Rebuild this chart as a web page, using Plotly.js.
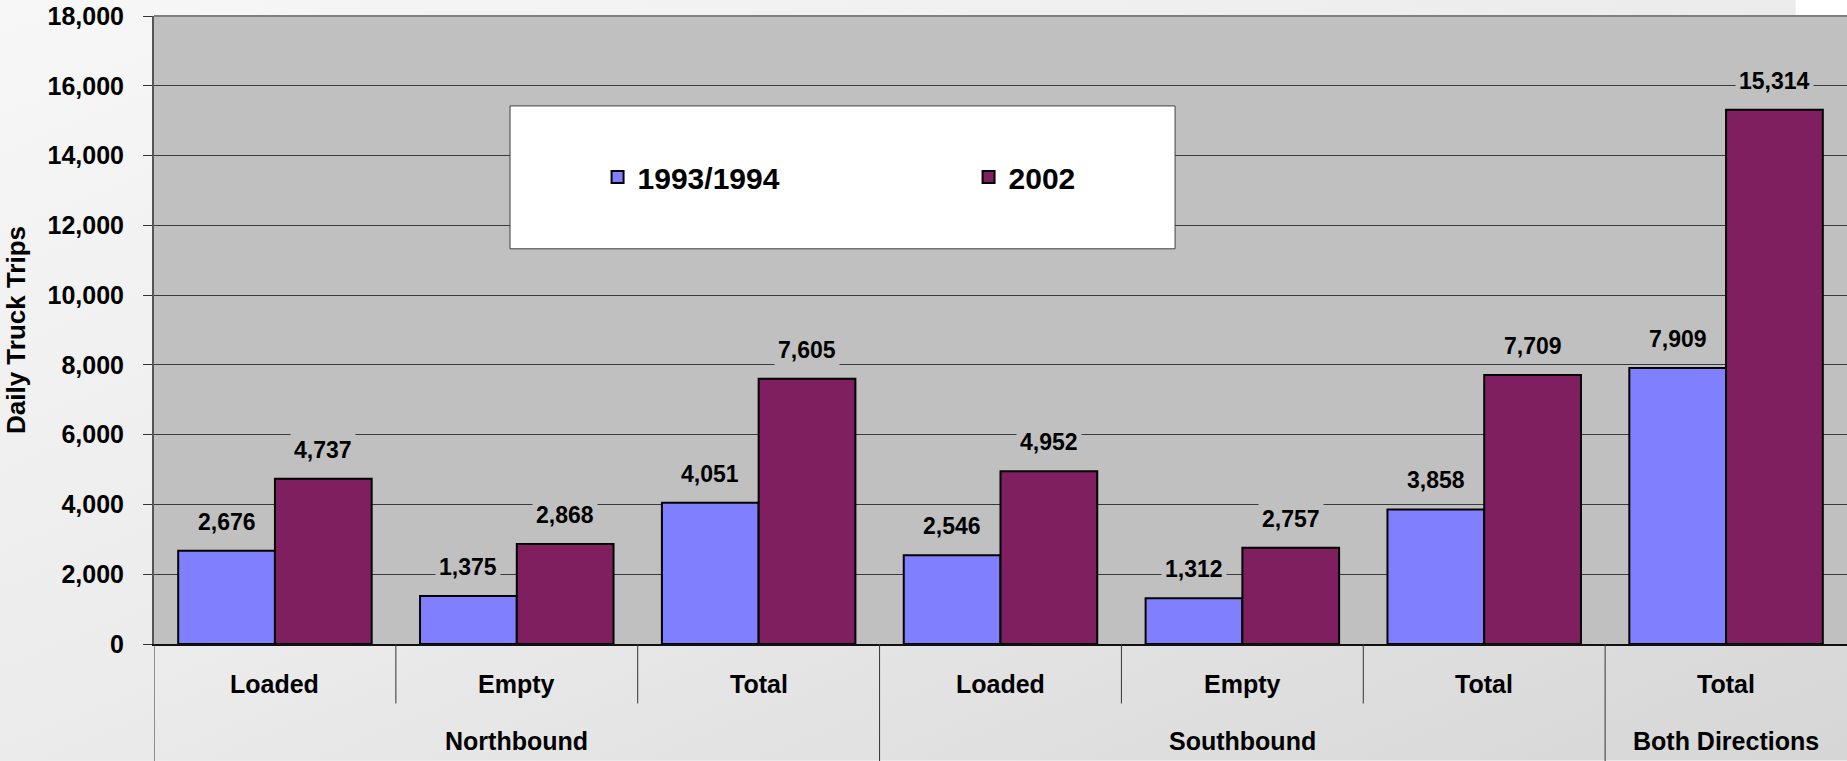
<!DOCTYPE html>
<html>
<head>
<meta charset="utf-8">
<script src="https://cdn.plot.ly/plotly-3.0.1.min.js"></script>
<style>
  html, body { margin: 0; padding: 0; background: #ececec; }
  #chart { width: 1847px; height: 761px; }
</style>
</head>
<body>
<div id="chart"></div>
<script>
// ---- data ----
const subCategories = ["Loaded", "Empty", "Total", "Loaded", "Empty", "Total", "Total"];
const groups = ["Northbound", "Northbound", "Northbound", "Southbound", "Southbound", "Southbound", "Both Directions"];
const seriesNames = ["1993/1994", "2002"];
const values1993 = [2676, 1375, 4051, 2546, 1312, 3858, 7909];
const values2002 = [4737, 2868, 7605, 4952, 2757, 7709, 15314];
const yTickValues = [0, 2000, 4000, 6000, 8000, 10000, 12000, 14000, 16000, 18000];

// ---- styling ----
const FONT = "Liberation Sans, Arial, Helvetica, sans-serif";
const colors = ["#8080ff", "#7f1f5f"];
const xIdx = subCategories.map((_, i) => i);
const allSeries = [values1993, values2002];
const barOffsets = [-0.2, 0.2];

const traces = allSeries.map((vals, s) => ({
  type: "bar",
  name: seriesNames[s],
  x: xIdx,
  y: vals,
  marker: { color: colors[s], line: { color: "#000000", width: 2 } },
  hoverinfo: "y"
}));

const fmt = v => v.toLocaleString("en-US");
const annotations = [];
// value labels
allSeries.forEach((vals, s) => {
  vals.forEach((v, i) => {
    annotations.push({
      x: i + barOffsets[s], y: v, xref: "x", yref: "y",
      text: fmt(v), showarrow: false, yanchor: "middle", yshift: 29,
      bgcolor: "#c0c0c0", borderpad: 3,
      font: { family: FONT, size: 23, color: "#000", weight: "bold" }
    });
  });
});
// sub-category labels
subCategories.forEach((c, i) => {
  annotations.push({
    x: i, y: -0.0644, xref: "x", yref: "paper", text: c, showarrow: false,
    yanchor: "middle", font: { family: FONT, size: 25, color: "#000", weight: "bold" }
  });
});
// group labels
const groupNames = [...new Set(groups)];
groupNames.forEach(g => {
  const idx = xIdx.filter(i => groups[i] === g);
  const center = idx.reduce((a, b) => a + b, 0) / idx.length;
  annotations.push({
    x: center, y: -0.155, xref: "x", yref: "paper", text: g, showarrow: false,
    yanchor: "middle", font: { family: FONT, size: 25, color: "#000", weight: "bold" }
  });
});

// ---- shapes ----
const shapes = [];
// plot area background
shapes.push({ type: "rect", xref: "paper", yref: "paper", x0: 0, x1: 1.01, y0: 0, y1: 1,
  fillcolor: "#c0c0c0", line: { width: 0 }, layer: "below" });
// white notch top right
shapes.push({ type: "rect", xref: "paper", yref: "paper", x0: 0.9697, x1: 1.01, y0: 1.002, y1: 1.03,
  fillcolor: "#ffffff", line: { width: 0 }, layer: "below" });
// top border
shapes.push({ type: "line", xref: "paper", yref: "paper", x0: 0, x1: 1.01, y0: 1, y1: 1,
  line: { color: "#808080", width: 2 }, layer: "above" });
// category dividers
shapes.push({ type: "line", xref: "x", yref: "paper", x0: -0.5, x1: -0.5, y0: 0, y1: -0.2,
  line: { color: "#333", width: 1 } });
for (let i = 0; i < subCategories.length - 1; i++) {
  const long = groups[i] !== groups[i + 1];
  shapes.push({ type: "line", xref: "x", yref: "paper", x0: i + 0.5, x1: i + 0.5, y0: 0,
    y1: long ? -0.2 : -0.0947, line: { color: "#333", width: 1 } });
}
// legend box
shapes.push({ type: "rect", xref: "paper", yref: "paper", x0: 0.2103, x1: 0.6031, y0: 0.6293, y1: 0.8568,
  fillcolor: "#ffffff", line: { color: "#404040", width: 1 }, layer: "above" });

// background gradient
const svg = "<svg xmlns='http://www.w3.org/2000/svg' width='200' height='100' preserveAspectRatio='none' viewBox='0 0 200 100'>" +
  "<defs><linearGradient id='g' x1='0' y1='0' x2='1' y2='1'>" +
  "<stop offset='0' stop-color='#f7f7f7'/><stop offset='0.5' stop-color='#ebebeb'/><stop offset='1' stop-color='#d6d6d6'/>" +
  "</linearGradient></defs><rect width='200' height='100' fill='url(#g)'/></svg>";
const bgImage = "data:image/svg+xml;charset=utf-8," + encodeURIComponent(svg);

const layout = {
  width: 1847, height: 761,
  margin: { l: 154, r: 0, t: 16, b: 117 },
  paper_bgcolor: "#ececec",
  plot_bgcolor: "rgba(0,0,0,0)",
  font: { family: FONT, color: "#000", weight: "bold" },
  barmode: "group", bargap: 0.2, bargroupgap: 0,
  showlegend: true,
  legend: {
    orientation: "h", x: 0.262, y: 0.7438, xanchor: "left", yanchor: "middle",
    bgcolor: "rgba(0,0,0,0)", borderwidth: 0,
    font: { family: FONT, size: 30, color: "#000", weight: "bold" },
    entrywidth: 326, entrywidthmode: "pixels"
  },
  xaxis: {
    range: [-0.5, 6.5], showticklabels: false, showgrid: false, zeroline: false,
    showline: true, linecolor: "#111", linewidth: 2, ticks: "", fixedrange: true
  },
  yaxis: {
    range: [0, 18000], tickvals: yTickValues, tickformat: ",d",
    showgrid: true, gridcolor: "#3a3a3a", gridwidth: 1, zeroline: false,
    showline: true, linecolor: "#555", linewidth: 2,
    ticks: "outside", ticklen: 9, tickcolor: "#333", tickwidth: 1,
    ticklabelstandoff: 14,
    tickfont: { family: FONT, size: 25, color: "#000", weight: "bold" },
    title: { text: "Daily Truck Trips", standoff: 14,
      font: { family: FONT, size: 26, color: "#000", weight: "bold" } },
    fixedrange: true
  },
  shapes: shapes,
  annotations: annotations,
  images: [{
    source: bgImage, xref: "paper", yref: "paper",
    x: -154 / 1693, y: 1 + 16 / 628.5, sizex: 1847 / 1693, sizey: 761 / 628.5,
    xanchor: "left", yanchor: "top", sizing: "stretch", layer: "below"
  }]
};

Plotly.newPlot("chart", traces, layout, { displayModeBar: false, staticPlot: true });
</script>
</body>
</html>
